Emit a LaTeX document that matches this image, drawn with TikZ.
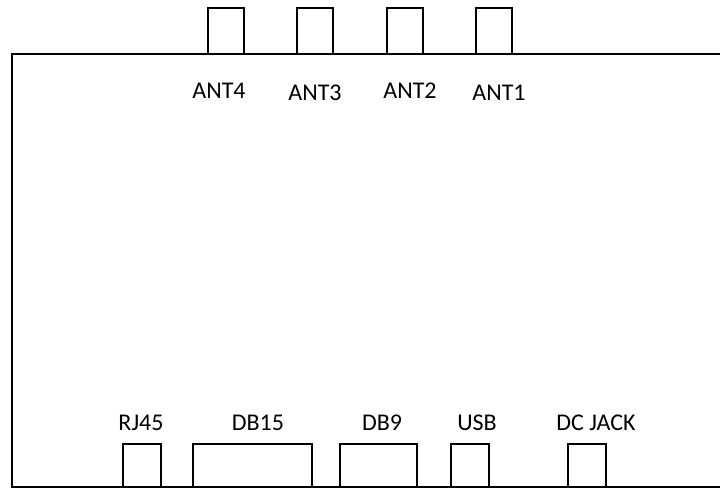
\documentclass[tikz,border=0pt]{standalone}
\usepackage{fontspec}
\setmainfont{Carlito}
\begin{document}
\begin{tikzpicture}[x=0.75pt,y=-0.75pt,
  line width=1.5pt,
  port/.style={draw,rectangle,inner sep=0pt,outer sep=0pt,fill=white},
  lbl/.style={inner sep=0pt,anchor=base,font=\fontsize{18}{20}\selectfont}]
\useasboundingbox (0,0) rectangle (720,489);
% body outline (right side open, runs off the picture)
\coordinate (tr) at (720,54);
\coordinate (tl) at (12,54);
\coordinate (bl) at (12,487);
\coordinate (br) at (720,487);
\draw (tr) -- (tl) -- (bl) -- (br);
% antennas
\node[port,minimum width=36*0.75pt,minimum height=46*0.75pt] (a4) at (226,31) {};
\node[port,minimum width=36*0.75pt,minimum height=46*0.75pt] (a3) at (315,31) {};
\node[port,minimum width=36*0.75pt,minimum height=46*0.75pt] (a2) at (405,31) {};
\node[port,minimum width=36*0.75pt,minimum height=46*0.75pt] (a1) at (494,31) {};
\node[lbl] (l4) at (219,98.7) {ANT4};
\node[lbl] (l3) at (315,100) {ANT3};
\node[lbl] (l2) at (410,98.7) {ANT2};
\node[lbl] (l1) at (499,100) {ANT1};
% bottom ports
\node[port,minimum width=38*0.75pt,minimum height=43*0.75pt] (rj) at (142,465.5) {};
\node[port,minimum width=119*0.75pt,minimum height=43*0.75pt] (db15) at (252.5,465.5) {};
\node[port,minimum width=77*0.75pt,minimum height=43*0.75pt] (db9) at (378.5,465.5) {};
\node[port,minimum width=38*0.75pt,minimum height=43*0.75pt] (usb) at (470,465.5) {};
\node[port,minimum width=38*0.75pt,minimum height=43*0.75pt] (dc) at (587,465.5) {};
\draw (bl) -- (br);
\node[lbl] (lrj) at (141,430.7) {RJ45};
\node[lbl] (ldb15) at (258,430.7) {DB15};
\node[lbl] (ldb9) at (382,430.7) {DB9};
\node[lbl] (lusb) at (477,430.7) {USB};
\node[lbl] (ldc) at (596,430.7) {DC JACK};
\end{tikzpicture}
\end{document}
